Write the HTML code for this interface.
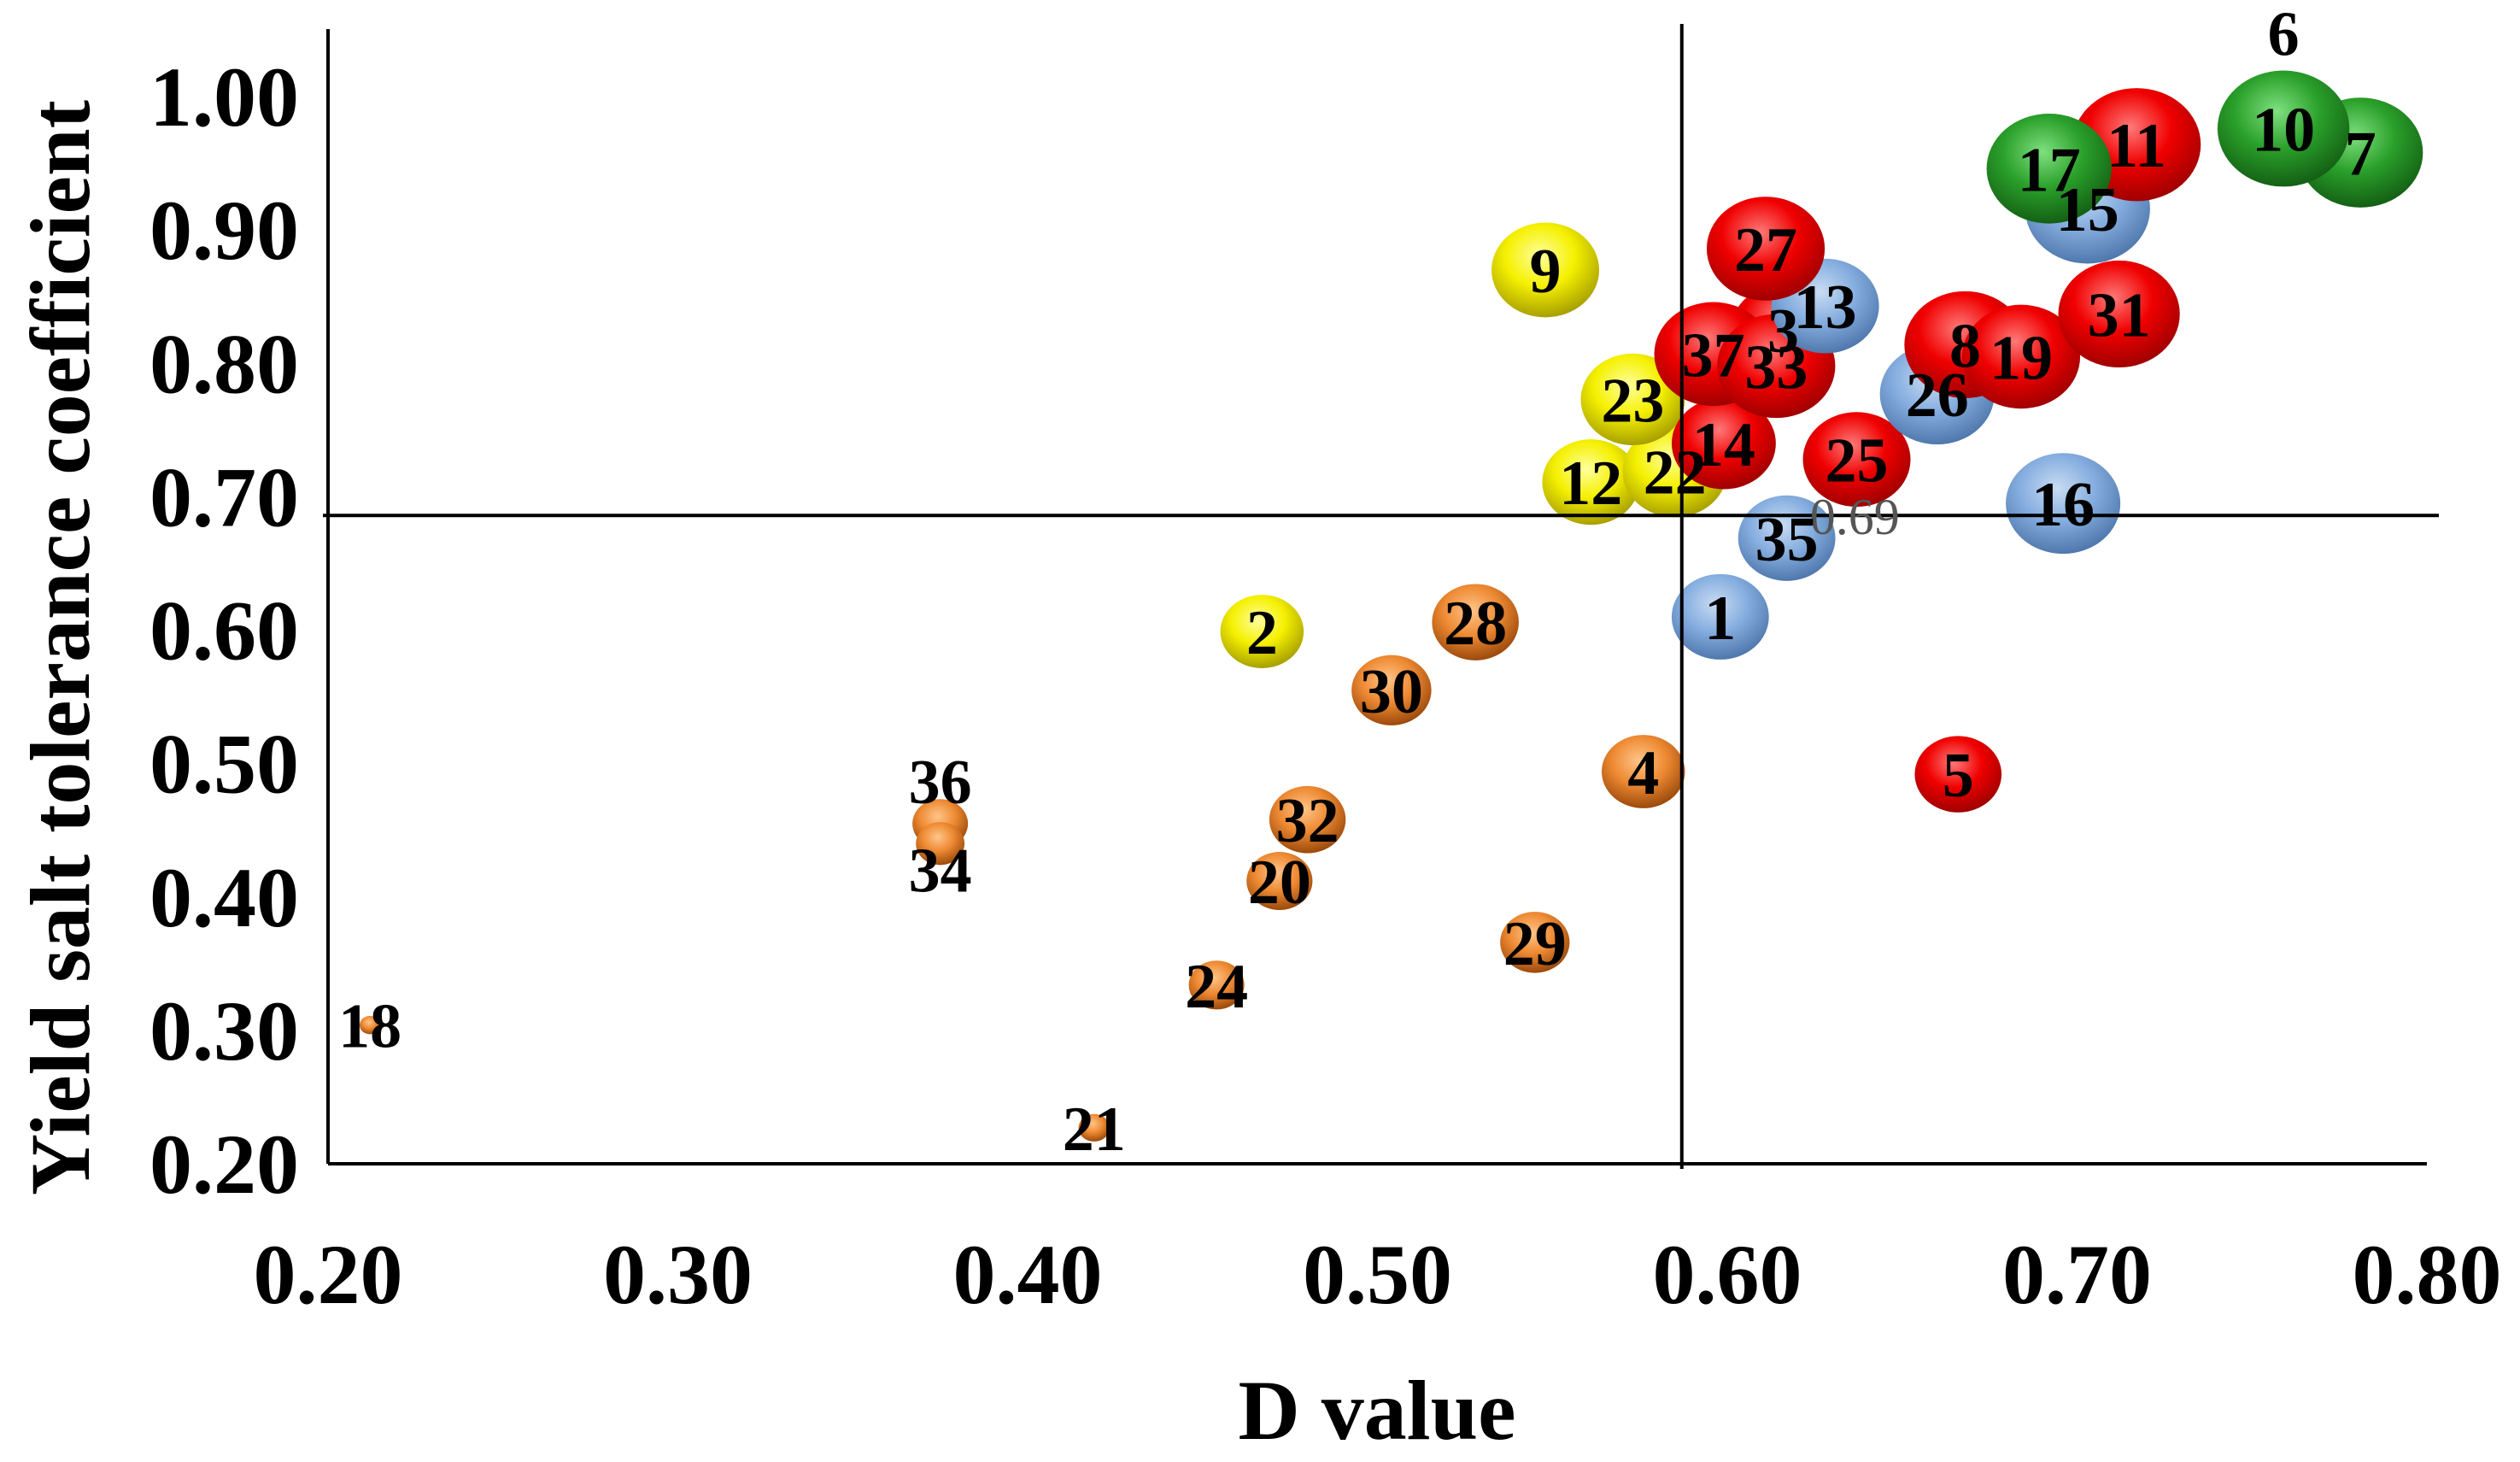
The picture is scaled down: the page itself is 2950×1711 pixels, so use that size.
<!DOCTYPE html>
<html><head><meta charset="utf-8">
<style>html,body{margin:0;padding:0;background:#fff;}svg{display:block;font-family:"Liberation Serif",serif;font-weight:bold;}</style>
</head><body>
<svg id="chart" width="2950" height="1711" viewBox="0 0 2950 1711" xmlns="http://www.w3.org/2000/svg">
<defs>
<radialGradient id="g-orange" cx="45%" cy="35%" r="65%"><stop offset="0" stop-color="#ffc58a"/><stop offset="0.5" stop-color="#ee8a33"/><stop offset="1" stop-color="#9c4a0c"/></radialGradient>
<radialGradient id="g-yellow" cx="45%" cy="35%" r="65%"><stop offset="0" stop-color="#ffffa0"/><stop offset="0.5" stop-color="#f5f000"/><stop offset="1" stop-color="#a8a000"/></radialGradient>
<radialGradient id="g-red" cx="45%" cy="35%" r="65%"><stop offset="0" stop-color="#ff7a7a"/><stop offset="0.5" stop-color="#f00000"/><stop offset="1" stop-color="#a00000"/></radialGradient>
<radialGradient id="g-blue" cx="45%" cy="35%" r="65%"><stop offset="0" stop-color="#c9dcf2"/><stop offset="0.5" stop-color="#86aee0"/><stop offset="1" stop-color="#4f78ad"/></radialGradient>
<radialGradient id="g-green" cx="45%" cy="35%" r="65%"><stop offset="0" stop-color="#7fe07f"/><stop offset="0.5" stop-color="#2aa02a"/><stop offset="1" stop-color="#146014"/></radialGradient>
</defs>
<g id="bubbles"></g>
<g id="axes"></g>
<g id="labels"></g>
</svg>
<script>
const ids = ["18","36","34","21","24","20","32","2","30","28","29","4","9","12","22","23","14","1","35","3","37","33","13","27","25","26","16","5","8","19","31","15","11","17","6","7","10"];
const dValues = [0.212,0.375,0.375,0.419,0.454,0.472,0.480,0.467,0.504,0.528,0.545,0.576,0.548,0.561,0.585,0.573,0.599,0.598,0.617,0.616,0.596,0.614,0.628,0.611,0.637,0.660,0.696,0.666,0.668,0.684,0.712,0.703,0.717,0.692,0.759,0.781,0.759];
const yValues = [0.304,0.455,0.440,0.227,0.334,0.412,0.458,0.599,0.555,0.606,0.366,0.494,0.870,0.711,0.719,0.773,0.740,0.610,0.669,0.825,0.807,0.798,0.843,0.886,0.728,0.777,0.695,0.492,0.814,0.805,0.837,0.916,0.964,0.946,0.985,0.958,0.976];
const sizes = [6,16,14,9,16,19,22,24,23,25,20,24,31,28,30,30,30,28,28,30,34,34,31,34,31,33,33,25,35,34,35,36,37,36,30,36,38];
const groups = ["orange","orange","orange","orange","orange","orange","orange","yellow","orange","orange","orange","orange","yellow","yellow","yellow","yellow","red","blue","blue","red","red","red","blue","red","red","blue","blue","red","red","red","red","blue","red","green","green","green","green"];
const xTicks = [0.20,0.30,0.40,0.50,0.60,0.70,0.80];
const yTicks = [0.20,0.30,0.40,0.50,0.60,0.70,0.80,0.90,1.00];
const refD = 0.587, refY = 0.686;

const NS="http://www.w3.org/2000/svg";
const X0=384,X1=2841,Y0=1362,Y1=113;
const xs=v=>X0+(v-0.2)/0.6*(X1-X0);
const ys=v=>Y0-(v-0.2)/0.8*(Y0-Y1);
const S=1.8814;
function mk(tag,attrs,parent){const e=document.createElementNS(NS,tag);for(const k in attrs)e.setAttribute(k,attrs[k]);parent.appendChild(e);return e;}
const gb=document.getElementById('bubbles'),ga=document.getElementById('axes'),gl=document.getElementById('labels');

let e;
e=mk('line',{x1:X0,y1:34,x2:X0,y2:Y0,stroke:'#000','stroke-width':4},ga);


e=mk('line',{x1:X0,y1:Y0,x2:X1,y2:Y0,stroke:'#000','stroke-width':4},ga);


e=mk('line',{x1:xs(refD),y1:28,x2:xs(refD),y2:Y0+6,stroke:'#000','stroke-width':4},ga);


e=mk('line',{x1:X0-6,y1:ys(refY),x2:2855,y2:ys(refY),stroke:'#000','stroke-width':4},ga);


xTicks.forEach(t=>{const l=mk('text',{x:xs(t),y:1525,'font-size':100,'text-anchor':'middle'},ga);l.textContent=t.toFixed(2);

});
yTicks.forEach(t=>{const l=mk('text',{x:350,y:ys(t)+34,'font-size':100,'text-anchor':'end'},ga);l.textContent=t.toFixed(2);

});
e=mk('text',{x:1612,y:1684,'font-size':100,'text-anchor':'middle'},ga);e.textContent='D value';


e=mk('text',{x:0,y:0,'font-size':100,'text-anchor':'middle',transform:'translate(104,758) rotate(-90)'},ga);e.textContent='Yield salt tolerance coefficient';


e=mk('text',{x:xs(refD)+150,y:ys(refY)+22,'font-size':60,fill:'#555','font-weight':'normal'},ga);e.textContent='0.69';



ids.forEach((id,i)=>{
  const cx=xs(dValues[i]),cy=ys(yValues[i]),r=sizes[i]*S;
  const c=mk('ellipse',{cx:cx,cy:cy,rx:r*1.08,ry:r*0.95,fill:'url(#g-'+groups[i]+')'},gb);
  
  
  let ly=cy+26;
  if(id==='36') ly=cy-24;
  if(id==='34') ly=cy+56;
  if(id==='6') ly=cy-72;
  const t=mk('text',{x:cx,y:ly,'font-size':74,'text-anchor':'middle',fill:'#000'},gl);
  t.textContent=id;
  
  
});
</script>
</body></html>
